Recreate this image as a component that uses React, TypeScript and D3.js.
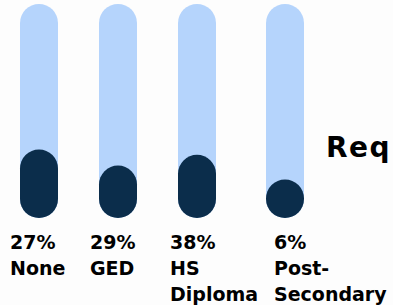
import { useEffect, useRef } from 'react'
import * as d3 from 'd3'

// education levels shown under each pill
const categories = ['None', 'GED', 'HS Diploma', 'Post-Secondary']
const labelLines = [['None'], ['GED'], ['HS', 'Diploma'], ['Post-', 'Secondary']]
const percents = [27, 29, 38, 6]
const fillLevels = [32, 24.5, 29.5, 18]

const W = 393
const H = 305

export default function App() {
  const svgRef = useRef<SVGSVGElement>(null)

  useEffect(() => {
    const svg = d3.select(svgRef.current)
    svg.selectAll('*').remove()

    const barW = 38
    const n = categories.length
    // last column is wider (long label), so the spacing bends there
    const x = d3.scaleLinear().domain([0, n - 2, n - 1]).range([39, 197, 285])
    const xl = d3.scaleLinear().domain([0, n - 2, n - 1]).range([10, 170, 274])
    const y = d3.scaleLinear().domain([0, 100]).range([218, 4])

    svg.append('rect').attr('width', W).attr('height', H).attr('fill', '#fdfdfd')

    const g = svg.selectAll('g.bar').data(categories).join('g').attr('class', 'bar')

    g.append('rect')
      .attr('x', (_, i) => x(i) - barW / 2)
      .attr('y', y(100))
      .attr('width', barW)
      .attr('height', y(0) - y(100))
      .attr('rx', barW / 2)
      .attr('fill', '#b5d4fc')

    g.append('rect')
      .attr('x', (_, i) => x(i) - barW / 2)
      .attr('y', (_, i) => y(fillLevels[i]))
      .attr('width', barW)
      .attr('height', (_, i) => y(0) - y(fillLevels[i]))
      .attr('rx', barW / 2)
      .attr('fill', '#0b2d4b')

    const t = g
      .append('text')
      .attr('x', (_, i) => xl(i))
      .attr('y', 249)
      .attr('font-family', 'DejaVu Sans, sans-serif')
      .attr('font-weight', 'bold')
      .attr('font-size', 19)
      .attr('fill', '#000')

    t.append('tspan')
      .attr('x', (_, i) => xl(i))
      .text((_, i) => `${percents[i]}%`)

    t.selectAll('tspan.line')
      .data((_, i) => labelLines[i].map((s) => ({ s, i })))
      .join('tspan')
      .attr('class', 'line')
      .attr('x', (d) => xl(d.i))
      .attr('dy', 26)
      .text((d) => d.s)

    svg
      .append('text')
      .attr('x', 326)
      .attr('y', 157)
      .attr('font-family', 'DejaVu Sans, sans-serif')
      .attr('font-weight', 'bold')
      .attr('font-size', 28)
      .attr('letter-spacing', 1.5)
      .attr('fill', '#000')
      .text('Req')
  }, [])

  return (
    <svg
      ref={svgRef}
      width={W}
      height={H}
      viewBox={`0 0 ${W} ${H}`}
      style={{ position: 'fixed', top: 0, left: 0, display: 'block' }}
    />
  )
}
